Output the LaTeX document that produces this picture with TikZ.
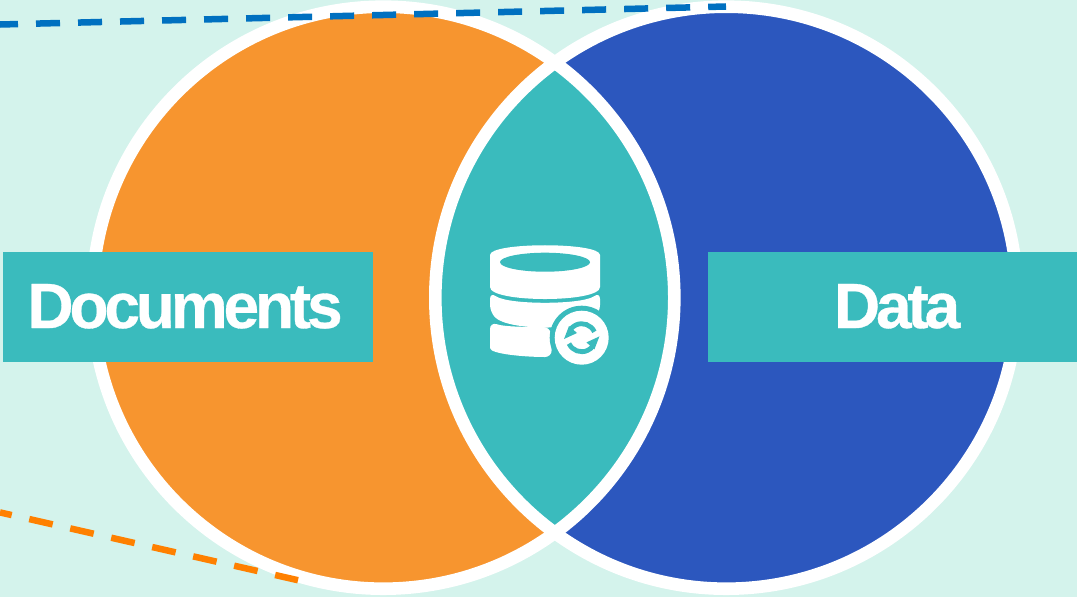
\documentclass[tikz,border=0pt]{standalone}
\usepackage{fontspec}
\setmainfont{Liberation Sans}
\newfontfamily\labelfont[LetterSpace=-6.5,FakeBold=0.5]{Liberation Sans}
\definecolor{mintbg}{HTML}{D4F3EC}
\definecolor{docorange}{HTML}{F7952F}
\definecolor{datablue}{HTML}{2C57BE}
\definecolor{lensteal}{HTML}{3ABBBD}
\definecolor{dashblue}{HTML}{0070C0}
\definecolor{dashorange}{HTML}{FF8000}
\tikzset{
  labelbox/.style={fill=lensteal,minimum width=3.7cm,minimum height=1.1cm,inner sep=0pt},
  labeltext/.style={text=white,anchor=base,inner sep=0pt,font=\labelfont\bfseries\fontsize{18.2pt}{20pt}\selectfont},
  ringline/.style={draw=white,line width=0.126cm},
  dashline/.style={line width=0.065cm,dash pattern=on 0.24cm off 0.18cm},
  syncline/.style={draw=lensteal,line width=0.048cm}
}

\begin{document}
\begin{tikzpicture}[x=0.01cm,y=-0.01cm]
  \useasboundingbox (0,0) rectangle (1077,597);
  \fill [mintbg] (0,0) rectangle (1077,597);

  \fill [docorange] (383.3,297.7) circle (288);
  \fill [datablue] (726.3,297.7) circle (288);

  \begin{scope}
    \clip (383.3,297.7) circle (288);
    \fill [lensteal] (726.3,297.7) circle (288);
  \end{scope}

  \draw [ringline] (383.3,297.7) circle (291);
  \draw [ringline] (726.3,297.7) circle (291);

  \draw [dashline,draw=dashblue,dash phase=0.06cm] (0,24.5) -- (726,6.5);
  \draw [dashline,draw=dashorange,dash phase=0.12cm] (0,512.4) -- (298,580.2);

  \node [labelbox] (docbox) at (188,307) {};
  \node [labelbox] (databox) at (893,307) {};
  \node [labeltext] (doclabel) at (185,328) {Documents};
  \node [labeltext] (datalabel) at (897,328) {Data};

  % database icon
  \fill [white,rounded corners=2pt] (490,262) .. controls (490,242) and (600,242) .. (600,262)
    -- (600,280) .. controls (600,303) and (490,303) .. (490,280) -- cycle;
  \fill [lensteal] (545,262.2) ellipse (45 and 9.5);
  \fill [white,rounded corners=2pt] (490,292) .. controls (508,305) and (582,305) .. (600,292)
    -- (600,312) .. controls (582,331) and (508,331) .. (490,312) -- cycle;
  \fill [white,rounded corners=2pt] (490,322) .. controls (505,327) and (530,327) .. (550.5,327)
    -- (552,357) .. controls (525,357) and (490,354) .. (490,341) -- cycle;

  % sync badge
  \fill [lensteal] (581.7,337.7) circle (32);
  \fill [white] (581.7,337.7) circle (27);
  \draw [syncline] (581.7,337.7) ++(335:14) arc (335:215:14);
  \draw [syncline] (581.7,337.7) ++(155:14) arc (155:35:14);
  \fill [lensteal] (564,339) -- (577,333) -- (569,326) -- cycle;
  \fill [lensteal] (599.4,336.4) -- (586.4,342.4) -- (594.4,349.4) -- cycle;
\end{tikzpicture}
\end{document}
